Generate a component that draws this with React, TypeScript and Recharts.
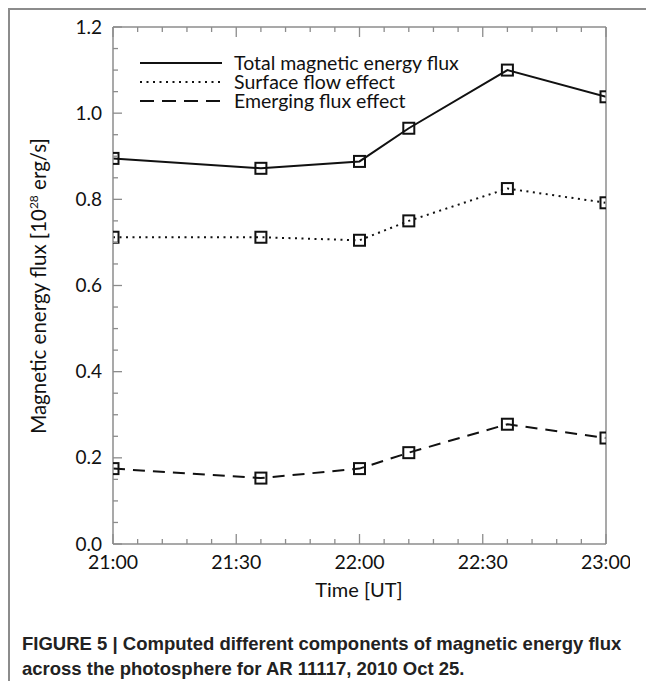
import React from "react";
import { LineChart, Line, XAxis, YAxis, Legend } from "recharts";

// minutes after 21:00 UT
const times = [0, 36, 60, 72, 96, 120];
const totalFlux = [0.895, 0.872, 0.888, 0.965, 1.1, 1.038];
const surfaceFlow = [0.712, 0.712, 0.705, 0.75, 0.825, 0.792];
const emergingFlux = [0.175, 0.153, 0.175, 0.212, 0.278, 0.246];

const xTicks = [0, 6, 12, 18, 24, 30, 36, 42, 48, 54, 60, 66, 72, 78, 84, 90, 96, 102, 108, 114, 120];
const xLabels: Record<number, string> = { 0: "21:00", 30: "21:30", 60: "22:00", 90: "22:30", 120: "23:00" };
const yTicks = [
  0, 0.05, 0.1, 0.15, 0.2, 0.25, 0.3, 0.35, 0.4, 0.45, 0.5, 0.55, 0.6, 0.65, 0.7, 0.75, 0.8, 0.85, 0.9,
  0.95, 1.0, 1.05, 1.1, 1.15, 1.2,
];
const yLabels: Record<string, string> = {
  "0": "0.0", "0.2": "0.2", "0.4": "0.4", "0.6": "0.6", "0.8": "0.8", "1": "1.0", "1.2": "1.2",
};

const series = [
  { key: "total", name: "Total magnetic energy flux", dash: undefined as string | undefined, legendDash: undefined as string | undefined },
  { key: "surface", name: "Surface flow effect", dash: "2 4.5", legendDash: "2 4.5" },
  { key: "emerging", name: "Emerging flux effect", dash: "12 8", legendDash: "14 8" },
];

const data = times.map((t, i) => ({
  t,
  total: totalFlux[i],
  surface: surfaceFlow[i],
  emerging: emergingFlux[i],
}));

const AXIS = "#8c8c8c";
const FONT = "Lato, 'Open Sans', sans-serif";

const isMajorX = (v: number) => xLabels[v] !== undefined;
const yKey = (v: number) => String(Math.round(v * 100) / 100);
const isMajorY = (v: number) => yLabels[yKey(v)] !== undefined;

const BottomTick = (props: any) => {
  const { x, y, payload } = props;
  const major = isMajorX(payload.value);
  return (
    <g>
      <line x1={x} x2={x} y1={y} y2={y - (major ? 10 : 5)} stroke={AXIS} strokeWidth={1.3} />
      {major && (
        <text x={x} y={y + 25} textAnchor="middle" fontSize={19.5} fontFamily={FONT} fill="#111">
          {xLabels[payload.value]}
        </text>
      )}
    </g>
  );
};

const TopTick = (props: any) => {
  const { x, y, payload } = props;
  const major = isMajorX(payload.value);
  return <line x1={x} x2={x} y1={y} y2={y + (major ? 10 : 5)} stroke={AXIS} strokeWidth={1.3} />;
};

const LeftTick = (props: any) => {
  const { x, y, payload } = props;
  const major = isMajorY(payload.value);
  return (
    <g>
      <line x1={x} x2={x + (major ? 9 : 5)} y1={y} y2={y} stroke={AXIS} strokeWidth={1.3} />
      {major && (
        <text x={x - 11} y={y} dy="0.35em" textAnchor="end" fontSize={19} fontFamily={FONT} fill="#111">
          {yLabels[yKey(payload.value)]}
        </text>
      )}
    </g>
  );
};

const RightTick = (props: any) => {
  const { x, y, payload } = props;
  const major = isMajorY(payload.value);
  return <line x1={x} x2={x - (major ? 9 : 5)} y1={y} y2={y} stroke={AXIS} strokeWidth={1.3} />;
};

const SquareDot = (props: any) => {
  const { cx, cy } = props;
  if (cx == null || cy == null) return null;
  return <rect x={cx - 5.5} y={cy - 5.5} width={11} height={11} fill="none" stroke="#111" strokeWidth={2} />;
};

const YLabel = () => (
  <text
    x={36}
    y={276}
    transform="rotate(-90 36 276)"
    textAnchor="middle"
    fontSize={20.5}
    fontFamily={FONT}
    fill="#111"
  >
    Magnetic energy flux [10
    <tspan fontSize={12} dy={-8}>28</tspan>
    <tspan dy={8}> erg/s]</tspan>
  </text>
);

const XLabel = () => (
  <text x={349} y={587} textAnchor="middle" fontSize={20} fontFamily={FONT} fill="#111">
    Time [UT]
  </text>
);

const renderLegend = () => (
  <svg width={380} height={64}>
    {series.map((s, i) => (
      <g key={s.key}>
        <line
          x1={2}
          x2={84}
          y1={10 + i * 19}
          y2={10 + i * 19}
          stroke="#111"
          strokeWidth={2}
          strokeDasharray={s.legendDash}
        />
        <text x={96} y={10 + i * 19} dy="0.35em" fontSize={19.5} fontFamily={FONT} fill="#111">
          {s.name}
        </text>
      </g>
    ))}
  </svg>
);

export default function App() {
  return (
    <div
      style={{
        position: "relative",
        width: 644,
        height: 671,
        borderTop: `2px solid ${AXIS}`,
        borderLeft: `2px solid ${AXIS}`,
        fontFamily: FONT,
      }}
    >
      <LineChart width={620} height={600} data={data} margin={{ top: 16, right: 23, bottom: 16, left: 44 }}>
        <XAxis
          dataKey="t"
          type="number"
          domain={[0, 120]}
          ticks={xTicks}
          interval={0}
          allowDataOverflow
          tickSize={0}
          tickMargin={0}
          tickLine={false}
          tick={<BottomTick />}
          axisLine={{ stroke: AXIS, strokeWidth: 1.5 }}
          height={50}
          label={<XLabel />}
        />
        <XAxis
          xAxisId="top"
          orientation="top"
          dataKey="t"
          type="number"
          domain={[0, 120]}
          ticks={xTicks}
          interval={0}
          tickSize={0}
          tickMargin={0}
          tickLine={false}
          tick={<TopTick />}
          axisLine={{ stroke: AXIS, strokeWidth: 1.5 }}
          height={1}
        />
        <YAxis
          type="number"
          domain={[0, 1.2]}
          ticks={yTicks}
          interval={0}
          allowDataOverflow
          tickSize={0}
          tickMargin={0}
          tickLine={false}
          tick={<LeftTick />}
          axisLine={{ stroke: AXIS, strokeWidth: 1.5 }}
          width={59}
          label={<YLabel />}
        />
        <YAxis
          yAxisId="right"
          orientation="right"
          type="number"
          domain={[0, 1.2]}
          ticks={yTicks}
          interval={0}
          tickSize={0}
          tickMargin={0}
          tickLine={false}
          tick={<RightTick />}
          axisLine={{ stroke: AXIS, strokeWidth: 1.5 }}
          width={1}
        />
        <Legend
          layout="vertical"
          align="center"
          verticalAlign="middle"
          wrapperStyle={{ left: 128, top: 43, width: 380, height: 64 }}
          content={renderLegend}
        />
        {series.map((s) => (
          <Line
            key={s.key}
            dataKey={s.key}
            name={s.name}
            type="linear"
            stroke="#111"
            strokeWidth={2}
            strokeDasharray={s.dash}
            dot={<SquareDot />}
            activeDot={false}
            isAnimationActive={false}
          />
        ))}
      </LineChart>
      <div
        style={{
          position: "absolute",
          left: 12,
          top: 621,
          fontFamily: "'Liberation Sans', Arial, sans-serif",
          fontWeight: "bold",
          fontSize: 18.5,
          lineHeight: "25px",
          color: "#222",
          whiteSpace: "nowrap",
        }}
      >
        FIGURE 5 | Computed different components of magnetic energy flux
        <br />
        across the photosphere for AR 11117, 2010 Oct 25.
      </div>
    </div>
  );
}
